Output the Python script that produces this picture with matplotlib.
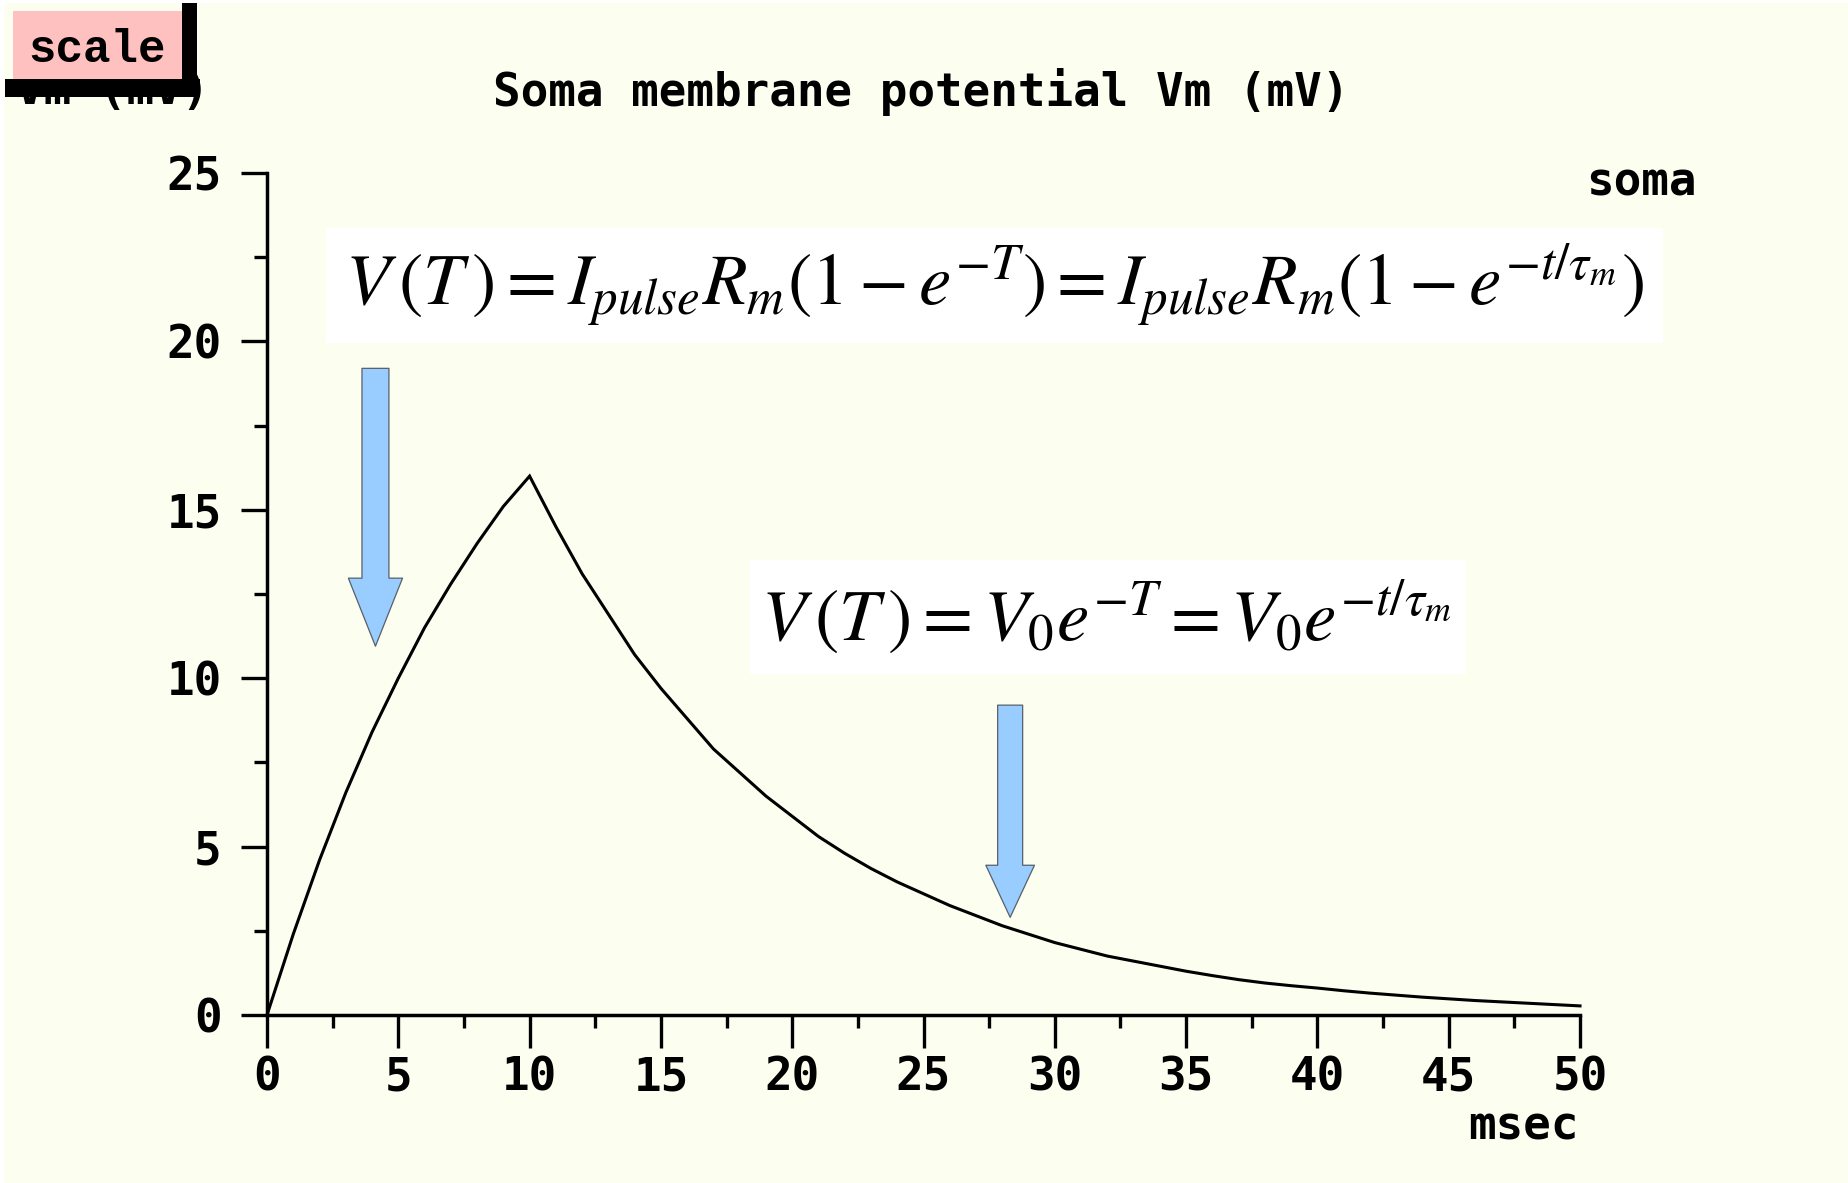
import matplotlib
matplotlib.use("Agg")
import matplotlib.pyplot as plt
from matplotlib.patches import Rectangle, FancyArrowPatch
from matplotlib.ticker import MultipleLocator

# ---- data -------------------------------------------------------------
t_ms = list(range(51))
vm_mv = [0.0, 2.4, 4.6, 6.6, 8.4, 10.0, 11.5, 12.8, 14.0, 15.1, 16.0,
         14.5, 13.1, 11.9, 10.7, 9.7, 8.8, 7.9, 7.2, 6.5, 5.9,
         5.3, 4.8, 4.35, 3.95, 3.6, 3.25, 2.95, 2.65, 2.4, 2.15,
         1.95, 1.75, 1.6, 1.45, 1.3, 1.17, 1.05, 0.95, 0.87, 0.8,
         0.72, 0.65, 0.59, 0.53, 0.48, 0.43, 0.39, 0.35, 0.31, 0.27]

x_ticks = [0, 5, 10, 15, 20, 25, 30, 35, 40, 45, 50]
y_ticks = [0, 5, 10, 15, 20, 25]

title = "Soma membrane potential Vm (mV)"
y_label = "Vm (mV)"
trace_label = "soma"
x_label = "msec"
button_label = "scale"
eq_charge = r"$V\,(T\,) = I_{pulse}R_m(1 - e^{-T}) = I_{pulse}R_m(1 - e^{-t/\tau_m})$"
eq_decay = r"$V\,(T\,) = V_0e^{-T} = V_0e^{-t/\tau_m}$"

# arrows (time, voltage): tail end, tip
arrow_charge = ((4.13, 19.2), (4.13, 10.95))
arrow_decay = ((28.3, 9.2), (28.3, 2.9))

# ---- figure -----------------------------------------------------------
W, H = 1848, 1183
BG = "#FCFEEF"
MONO = ["DejaVu Sans Mono", "DejaVu Sans"]
plt.rcParams["mathtext.fontset"] = "stix"
plt.rcParams["font.family"] = MONO

fig = plt.figure(figsize=(W / 100, H / 100), dpi=100, facecolor=BG)


def fx(px):
    return px / W


def fy(py):
    return 1 - py / H


# thin white edge along top and left
fig.add_artist(Rectangle((0, fy(3)), 1, 3 / H, transform=fig.transFigure,
                         facecolor="white", edgecolor="none", zorder=0))
fig.add_artist(Rectangle((0, 0), 4 / W, 1, transform=fig.transFigure,
                         facecolor="white", edgecolor="none", zorder=0))

ax = fig.add_axes([fx(267), fy(1015), fx(1580) - fx(267), fy(173) - fy(1015)])
ax.set_facecolor("none")
ax.set_xlim(0, 50)
ax.set_ylim(0, 25)
for side in ("top", "right"):
    ax.spines[side].set_visible(False)
for side in ("left", "bottom"):
    ax.spines[side].set_linewidth(2.5)

ax.set_xticks(x_ticks, labels=[str(v) for v in x_ticks],
              fontweight="bold", fontsize=33)
ax.set_yticks(y_ticks, labels=[str(v) for v in y_ticks],
              fontweight="bold", fontsize=33)
ax.xaxis.set_minor_locator(MultipleLocator(2.5))
ax.yaxis.set_minor_locator(MultipleLocator(2.5))
ax.tick_params(axis="x", which="major", direction="out", length=24, width=2.4,
               pad=5)
ax.tick_params(axis="y", which="major", direction="out", length=18.5, width=2.4,
               pad=14)
ax.tick_params(axis="both", which="minor", direction="out", length=9.5, width=2.4)

ax.plot(t_ms, vm_mv, color="black", lw=2.2, clip_on=False,
        solid_joinstyle="miter")

# arrows
for (p0, p1), hl, hw, tw in ((arrow_charge, 49, 39, 19.4),
                             (arrow_decay, 37.5, 35, 18)):
    arr = FancyArrowPatch(p0, p1,
                          arrowstyle=f"simple,head_length={hl},head_width={hw},tail_width={tw}",
                          mutation_scale=1, shrinkA=0, shrinkB=0,
                          facecolor="#99CCFF", edgecolor="#56606a", lw=0.9,
                          zorder=4)
    ax.add_patch(arr)


# equation panels: white card with the formula fitted to a target width
def equation(text, box, target_w, cx):
    x0, y0, x1, y1 = box
    fig.add_artist(Rectangle((fx(x0), fy(y1)), (x1 - x0) / W, (y1 - y0) / H,
                             transform=fig.transFigure, facecolor="white",
                             edgecolor="none", zorder=2))
    cy = (y0 + y1) / 2
    t = fig.text(fx(cx), fy(cy), text, ha="center", va="center",
                 fontsize=40, zorder=3, fontweight="normal")
    fig.canvas.draw()
    w = t.get_window_extent().width
    t.set_fontsize(40 * target_w / w)
    return t


equation(eq_charge, (326, 228, 1663, 343), 1300, 994)
equation(eq_decay, (750, 560, 1466, 674), 692, 1107)

# title and labels
fig.text(fx(921), fy(106), title, ha="center", va="baseline", fontsize=33,
         fontweight="bold")
fig.text(fx(16), fy(104), y_label, ha="left", va="baseline", fontsize=33,
         fontweight="bold", zorder=3)
fig.text(fx(1586), fy(195), trace_label, ha="left", va="baseline", fontsize=33,
         fontweight="bold")
fig.text(fx(1579), fy(1139), x_label, ha="right", va="baseline", fontsize=33,
         fontweight="bold")

# "scale" button with its dark bevel
for (x0, y0, x1, y1) in ((182, 3, 197, 97), (5, 79, 200, 97)):
    fig.add_artist(Rectangle((fx(x0), fy(y1)), (x1 - x0) / W, (y1 - y0) / H,
                             transform=fig.transFigure, facecolor="black",
                             edgecolor="none", zorder=5))
fig.add_artist(Rectangle((fx(13), fy(79)), (182 - 13) / W, (79 - 11) / H,
                         transform=fig.transFigure, facecolor="#FFC0C0",
                         edgecolor="none", zorder=5))
fig.text(fx(97), fy(50), button_label, ha="center", va="center", fontsize=33,
         fontweight="bold", family=["Liberation Mono", "DejaVu Sans Mono"],
         zorder=6)

fig.savefig("out.png", dpi=100, facecolor=BG)
